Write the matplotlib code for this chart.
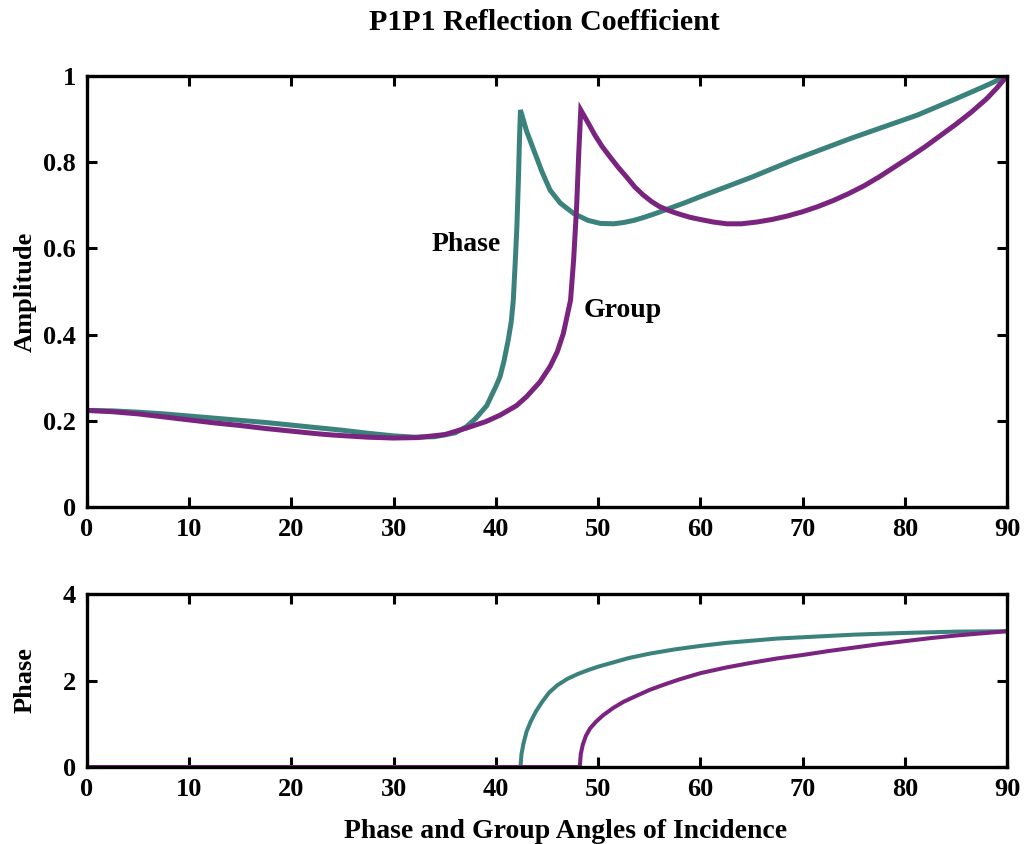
import numpy as np, matplotlib
matplotlib.use("Agg"); import matplotlib.pyplot as plt

plt.rcParams['font.family'] = ['Liberation Serif', 'DejaVu Serif']
plt.rcParams['font.weight'] = 'bold'

TEAL = "#3b827d"; PURPLE = "#7a237f"

# --- amplitude vs angle ---
ph_ang = [0, 2.5, 5, 7.5, 10, 12.5, 15, 17.5, 20, 22.5, 25, 27.5, 30, 32, 34, 36, 37.1, 38, 39.1,
          40, 40.4, 40.8, 41.2, 41.5, 41.7, 41.9, 42.05, 42.2, 42.3, 42.4, 43.0, 43.7, 44.5, 45.3,
          46.3, 47.6, 49, 50.2, 51.5, 52.5, 53.5, 54.5, 55.5, 57, 58.5, 60, 65, 69.1, 74.7, 81.2,
          85, 87.7, 90]
ph_amp = [0.224, 0.223, 0.220, 0.216, 0.211, 0.206, 0.201, 0.196, 0.190, 0.184, 0.178, 0.171,
          0.165, 0.162, 0.163, 0.172, 0.186, 0.205, 0.235, 0.280, 0.302, 0.340, 0.387, 0.430,
          0.480, 0.573, 0.650, 0.760, 0.850, 0.921, 0.872, 0.828, 0.778, 0.735, 0.705, 0.681,
          0.665, 0.658, 0.657, 0.660, 0.665, 0.672, 0.680, 0.693, 0.706, 0.720, 0.765, 0.805,
          0.855, 0.909, 0.947, 0.975, 1.0]
gr_ang = [0, 2.5, 5, 7.5, 10, 12.5, 15, 17.5, 20, 22.5, 24, 27.4, 30, 32.3, 35, 37.1, 39, 40.4,
          42, 43, 44.3, 45.3, 46, 46.6, 47.3, 47.6, 47.9, 48.1, 48.3, 49.0, 49.7, 50.4, 51.2, 52.0,
          52.8, 53.6, 54.4, 55.2, 56, 57, 58, 59, 60, 61.3, 62.6, 64, 65.5, 67, 68.5, 70, 71.5, 73,
          74.5, 76, 77.5, 79, 80.5, 82, 83.5, 85, 86.5, 88, 89, 90]
gr_amp = [0.224, 0.221, 0.216, 0.209, 0.202, 0.195, 0.189, 0.182, 0.176, 0.170, 0.167, 0.162,
          0.160, 0.161, 0.168, 0.183, 0.198, 0.213, 0.235, 0.256, 0.290, 0.326, 0.360, 0.403,
          0.480, 0.573, 0.700, 0.820, 0.921, 0.892, 0.862, 0.836, 0.811, 0.787, 0.765, 0.742,
          0.724, 0.709, 0.697, 0.687, 0.679, 0.672, 0.667, 0.661, 0.657, 0.657, 0.661, 0.667,
          0.675, 0.685, 0.697, 0.711, 0.727, 0.745, 0.766, 0.789, 0.812, 0.836, 0.862, 0.888,
          0.916, 0.947, 0.972, 1.0]

# --- phase vs angle ---
ph_pang = [0, 42.4, 42.5, 42.7, 43.0, 43.4, 43.9, 44.5, 45.2, 46, 47, 48, 49, 50, 51.5, 53, 55,
           57.5, 60, 62.5, 65, 67.5, 70, 75, 80, 85, 90]
ph_phase = [0, 0, 0.30, 0.55, 0.82, 1.05, 1.28, 1.50, 1.72, 1.89, 2.04, 2.15, 2.24, 2.32, 2.42,
            2.52, 2.62, 2.72, 2.80, 2.87, 2.92, 2.97, 3.00, 3.06, 3.10, 3.13, 3.14]
gr_pang = [0, 48.2, 48.3, 48.5, 48.8, 49.2, 49.8, 50.5, 51.5, 52.5, 53.5, 55, 56.5, 58, 60, 62.5,
           65, 67.5, 70, 72.5, 75, 77.5, 80, 82.5, 85, 87.5, 90]
gr_phase = [0, 0, 0.30, 0.52, 0.72, 0.89, 1.05, 1.20, 1.37, 1.51, 1.62, 1.78, 1.91, 2.03, 2.17,
            2.30, 2.41, 2.51, 2.59, 2.68, 2.76, 2.84, 2.91, 2.98, 3.04, 3.09, 3.14]

fs = 20
fig = plt.figure(figsize=(10.25, 8.44), dpi=100)
ax1 = fig.add_axes([0.0849, 0.3993, 0.8976, 0.5107])
ax2 = fig.add_axes([0.0849, 0.0912, 0.8976, 0.2050])

ax1.plot(ph_ang, ph_amp, color=TEAL, lw=3.6, solid_joinstyle="miter")
ax1.plot(gr_ang, gr_amp, color=PURPLE, lw=3.6, solid_joinstyle="miter")
ax1.set_xlim(0, 90); ax1.set_ylim(0, 1)
ax1.set_yticks([0, 0.2, 0.4, 0.6, 0.8, 1]); ax1.set_yticklabels(["0", "0.2", "0.4", "0.6", "0.8", "1"])
ax1.set_ylabel("Amplitude", fontsize=19, fontweight="bold")
ax1.text(37.1, 0.61, "Phase", fontsize=fs, fontweight="bold", ha="center", va="center")
ax1.text(52.4, 0.455, "Group", fontsize=fs, fontweight="bold", ha="center", va="center")

ax2.plot(ph_pang, ph_phase, color=TEAL, lw=2.9)
ax2.plot(gr_pang, gr_phase, color=PURPLE, lw=2.9)
ax2.set_xlim(0, 90); ax2.set_ylim(0, 4)
ax2.set_yticks([0, 2, 4])
ax2.set_ylabel("Phase", fontsize=19, fontweight="bold")
ax2.set_xlabel("Phase and Group Angles of Incidence", fontsize=fs, fontweight="bold")

for ax in (ax1, ax2):
    ax.set_xticks(range(0, 91, 10))
    ax.tick_params(direction="in", length=7, width=2.2, top=True, right=True, labelsize=19, pad=8)
    for s in ax.spines.values(): s.set_linewidth(2.4)
    for lab in ax.get_xticklabels() + ax.get_yticklabels(): lab.set_fontweight("bold")
    ax.yaxis.set_label_coords(-0.055, 0.5)
ax2.xaxis.set_label_coords(0.52, -0.30)

fig.text(0.531, 1 - 22/844, "P1P1 Reflection Coefficient", fontsize=21.5, fontweight="bold", ha="center", va="center")
fig.savefig("out.png", dpi=100)
